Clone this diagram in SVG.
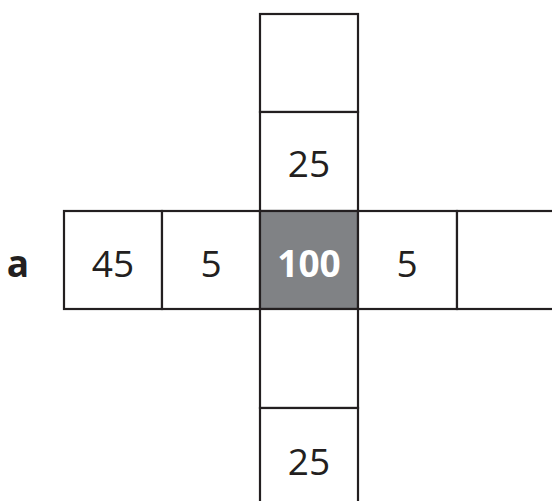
<svg xmlns="http://www.w3.org/2000/svg" width="552" height="501" viewBox="0 0 552 501">
<style>
.c{fill:#fff;stroke:#231f20;stroke-width:2.2}
.t{font-family:"Open Sans","Liberation Sans",sans-serif;font-size:37px;fill:#231f20;text-anchor:middle}
.b{font-weight:bold}
</style>
<rect width="552" height="501" fill="#fff"/>
<g id="col-top"><rect class="c" x="260" y="14" width="98" height="98"/></g>
<g id="col-25a"><rect class="c" x="260" y="112" width="98" height="99"/><text class="t" x="309" y="177">25</text></g>
<g id="label-a"><text class="t b" x="18" y="277">a</text></g>
<g id="row-45"><rect class="c" x="64" y="211" width="98" height="98"/><text class="t" x="113" y="277">45</text></g>
<g id="row-5a"><rect class="c" x="162" y="211" width="98" height="98"/><text class="t" x="211" y="277">5</text></g>
<g id="center"><rect class="c" x="260" y="211" width="98" height="98" style="fill:#808285"/><text class="t b" x="309" y="277" style="fill:#fff">100</text></g>
<g id="row-5b"><rect class="c" x="358" y="211" width="99" height="98"/><text class="t" x="407" y="277">5</text></g>
<g id="row-right"><rect class="c" x="457" y="211" width="100" height="98"/></g>
<g id="col-empty"><rect class="c" x="260" y="309" width="98" height="99"/></g>
<g id="col-25b"><rect class="c" x="260" y="408" width="98" height="100"/><text class="t" x="309" y="475">25</text></g>
<g id="connectors"></g>
</svg>
